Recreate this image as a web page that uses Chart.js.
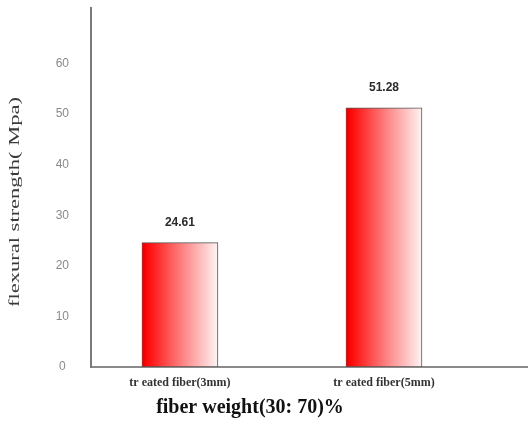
<!DOCTYPE html>
<html>
<head>
<meta charset="utf-8">
<script src="https://cdn.jsdelivr.net/npm/chart.js@4/dist/chart.umd.min.js"></script>
<style>
  html, body { margin: 0; padding: 0; background: #ffffff; }
  #wrap { width: 528px; height: 424px; }
</style>
</head>
<body>
<div id="wrap"><canvas id="c" width="528" height="424"></canvas></div>
<script>
// Categories and measured flexural strength (MPa)
const categories = ['tr eated fiber(3mm)', 'tr eated fiber(5mm)'];
const strengthValues = [24.61, 51.28];
const yTicks = [0, 10, 20, 30, 40, 50, 60];
const yTitle = 'flexural strength( Mpa)';
const xTitle = 'fiber weight(30: 70)%';

const points = categories.map((c, i) => ({ x: i, y: strengthValues[i] }));
let barGradients = [];

// Horizontal red-to-white gradient for each bar, built once the scales are laid out
const gradientPlugin = {
  id: 'barGradients',
  afterLayout(chart) {
    const ctx = chart.ctx;
    const xs = chart.scales.x;
    const half = chart.data.datasets[0].barThickness / 2;
    barGradients = categories.map((c, i) => {
      const cx = xs.getPixelForValue(i);
      const g = ctx.createLinearGradient(cx - half, 0, cx + half, 0);
      g.addColorStop(0, '#e00000');
      g.addColorStop(0.07, '#ff0808');
      g.addColorStop(0.5, '#ff7a7a');
      g.addColorStop(1, '#fff3f3');
      return g;
    });
  }
};

// Value labels above the bars and the two axis titles
const textPlugin = {
  id: 'chartTexts',
  afterDatasetsDraw(chart) {
    const ctx = chart.ctx;
    const meta = chart.getDatasetMeta(0);
    ctx.save();
    ctx.font = 'bold 12px "Liberation Sans", Arial, sans-serif';
    ctx.fillStyle = '#2a2a2a';
    ctx.textAlign = 'center';
    ctx.textBaseline = 'bottom';
    meta.data.forEach((el, i) => {
      ctx.fillText(strengthValues[i].toFixed(2), el.x, el.y - 14);
    });
    ctx.restore();
  },
  afterDraw(chart) {
    const ctx = chart.ctx;
    // rotated, stretched y-axis title
    ctx.save();
    ctx.translate(15, 202);
    ctx.rotate(-Math.PI / 2);
    ctx.scale(1.5, 1);
    ctx.font = '15px "Liberation Serif", "Times New Roman", serif';
    ctx.fillStyle = '#3a3a3a';
    ctx.textAlign = 'center';
    ctx.textBaseline = 'middle';
    ctx.fillText(yTitle, 0, 0);
    ctx.restore();
    // x-axis title
    ctx.save();
    ctx.font = 'bold 20px "Liberation Serif", "Times New Roman", serif';
    ctx.fillStyle = '#111111';
    ctx.textAlign = 'center';
    ctx.textBaseline = 'middle';
    ctx.fillText(xTitle, 250, 408);
    ctx.restore();
  }
};

new Chart(document.getElementById('c'), {
  type: 'bar',
  data: {
    datasets: [{
      data: points,
      barThickness: 76,
      backgroundColor: (ctx) => barGradients[ctx.dataIndex] || '#ff4040',
      borderColor: '#555555',
      borderWidth: 1,
      borderSkipped: false
    }]
  },
  options: {
    responsive: false,
    animation: false,
    events: [],
    layout: { padding: { top: 8, right: 1, left: 0, bottom: 0 } },
    plugins: {
      legend: { display: false },
      tooltip: { enabled: false },
      title: { display: false }
    },
    scales: {
      x: {
        type: 'linear',
        offset: false,
        min: -0.436,
        max: 1.701,
        grid: { display: false, drawTicks: false },
        border: { display: true, color: '#8a8a8a', width: 2 },
        afterBuildTicks: (s) => { s.ticks = categories.map((c, i) => ({ value: i })); },
        afterFit: (s) => { s.height = 57; s.paddingLeft = 0; s.paddingRight = 0; },
        ticks: {
          padding: 9,
          maxRotation: 0,
          autoSkip: false,
          color: '#333333',
          font: { family: '"Liberation Serif", "Times New Roman", serif', size: 12, weight: 'bold' },
          callback: (v) => categories[v]
        }
      },
      y: {
        min: 0,
        max: 71,
        grid: { display: false, drawTicks: false },
        border: { display: true, color: '#7a7a7a', width: 2 },
        afterBuildTicks: (s) => { s.ticks = yTicks.map(v => ({ value: v })); },
        afterFit: (s) => { s.width = 91; s.paddingTop = 0; s.paddingBottom = 0; },
        ticks: {
          padding: 22,
          crossAlign: 'center',
          color: '#8a8a8a',
          font: { family: '"Liberation Sans", Arial, sans-serif', size: 12 }
        }
      }
    }
  },
  plugins: [gradientPlugin, textPlugin]
});
</script>
</body>
</html>
